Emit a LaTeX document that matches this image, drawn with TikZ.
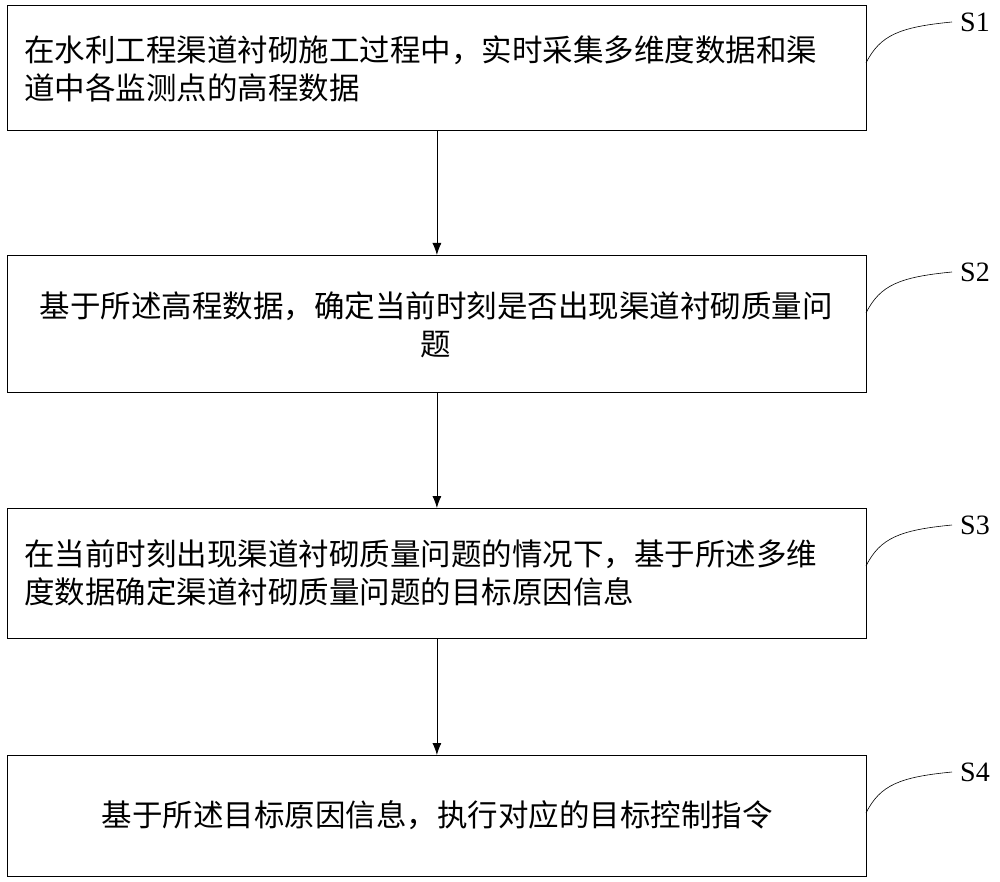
\documentclass[tikz,border=0pt]{standalone}
\usepackage{fontspec}
\usetikzlibrary{arrows.meta}
\setmainfont{Liberation Serif}
\newfontfamily\cjk{Noto Sans CJK SC}
\begin{document}
\begin{tikzpicture}[x=1pt,y=-1pt,
  box/.style={draw,line width=0.8pt,minimum width=859pt,anchor=north west,inner sep=0pt},
  txt/.style={font=\cjk\fontsize{30.5}{38}\selectfont},
  lab/.style={font=\fontsize{28}{30}\selectfont},
  arr/.style={-{Latex[length=12pt,width=9pt]},line width=0.8pt}]
\useasboundingbox (0,0) rectangle (1000,882);
\node[box,minimum height=125pt] (b1) at (7,5) {};
\node[box,minimum height=137pt] (b2) at (7,255) {};
\node[box,minimum height=130pt] (b3) at (7,508) {};
\node[box,minimum height=121pt] (b4) at (7,755) {};
\node[txt,align=left,anchor=west,inner sep=0pt] (t1) at (24,69) {在水利工程渠道衬砌施工过程中，实时采集多维度数据和渠\\道中各监测点的高程数据};
\node[txt,align=center] (t2) at (436,325) {基于所述高程数据，确定当前时刻是否出现渠道衬砌质量问\\题};
\node[txt,align=left,anchor=west,inner sep=0pt] (t3) at (24,573) {在当前时刻出现渠道衬砌质量问题的情况下，基于所述多维\\度数据确定渠道衬砌质量问题的目标原因信息};
\node[txt] (t4) at (437,815) {基于所述目标原因信息，执行对应的目标控制指令};
\draw[arr] (b1.south) -- (b2.north);
\draw[arr] (b2.south) -- (b3.north);
\draw[arr] (b3.south) -- (b4.north);
\foreach \i/\y in {1/5,2/255,3/508,4/755}{
  \node[lab] (s\i) at (975,\y+17) {S\i};
  \coordinate (c\i) at (866,\y+58);
  \draw[line width=0.6pt] (c\i) .. controls (880,\y+30) and (900,\y+22) .. (952,\y+17);
}
\end{tikzpicture}
\end{document}
